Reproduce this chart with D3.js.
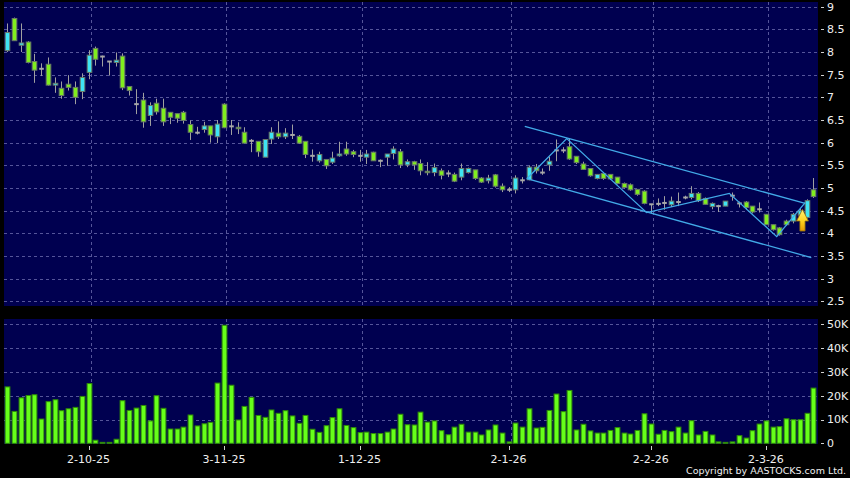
<!DOCTYPE html>
<html><head><meta charset="utf-8">
<script src="https://cdn.jsdelivr.net/npm/d3@7/dist/d3.min.js"></script>
<style>html,body{margin:0;padding:0;background:#000;}svg{display:block;}</style>
</head><body>
<svg id="c" width="850" height="478"></svg>
<script>
// ---- data (one entry per trading day) ----
const open = [8.03,8.74,8.15,8.22,7.79,7.63,7.73,7.27,7.20,7.29, 7.22,7.13,7.55,8.08,7.90,7.79,7.77,7.91,7.24,6.85,
 6.94,6.60,6.87,6.76,6.67,6.64,6.67,6.40,6.22,6.29, 6.37,6.13,6.85,6.36,6.34,6.23,6.04,6.03,5.68,6.08,
 6.21,6.13,6.17,6.14,6.03,5.71,5.60,5.63,5.57,5.71, 5.86,5.80,5.71,5.68,5.79,5.60,5.68,5.76,5.80,5.51,
 5.58,5.54,5.37,5.34,5.38,5.32,5.30,5.24,5.34,5.40, 5.22,5.16,5.29,5.04,4.96,4.96,5.17,5.18,5.46,5.34,
 5.51,5.83,5.83,5.91,5.70,5.53,5.43,5.21,5.32,5.30, 5.24,5.10,5.07,4.97,4.93,4.64,4.65,4.67,4.63,4.69,
 4.79,4.79,4.88,4.77,4.59,4.60,4.60,4.83,4.66,4.69, 4.60,4.53,4.42,4.19,4.12,4.27,4.27,4.40,4.35,4.96];
const high = [8.63,8.76,8.63,8.24,7.96,7.75,7.88,7.44,7.35,7.49, 7.35,7.53,8.04,8.12,7.92,7.80,7.99,7.97,7.25,7.18,
 7.10,6.89,6.97,6.97,6.67,6.64,6.70,6.49,6.35,6.46, 6.37,6.50,6.87,6.50,6.45,6.34,6.08,6.03,6.07,6.34,
 6.47,6.32,6.40,6.17,6.03,5.85,5.80,5.63,5.80,6.02, 6.02,5.84,5.84,5.84,5.80,5.63,5.75,5.92,5.86,5.63,
 5.60,5.63,5.57,5.54,5.43,5.39,5.34,5.54,5.45,5.40, 5.24,5.29,5.31,5.10,5.02,5.28,5.24,5.50,5.53,5.43,
 5.69,6.07,5.90,6.09,5.70,5.58,5.43,5.30,5.35,5.30, 5.24,5.12,5.10,4.97,4.95,4.64,4.77,4.82,4.81,4.90,
 4.83,5.04,4.91,4.79,4.68,4.63,4.71,4.90,4.70,4.71, 4.60,4.68,4.42,4.19,4.14,4.30,4.45,4.55,4.75,5.22];
const low = [8.00,8.25,8.00,7.75,7.32,7.47,7.26,7.10,6.97,7.15, 6.85,6.96,7.40,7.70,7.68,7.48,7.68,7.16,7.04,6.63,
 6.33,6.37,6.62,6.37,6.41,6.44,6.42,6.06,6.18,6.22, 6.00,5.99,6.32,6.17,6.19,5.99,5.79,5.69,5.68,5.97,
 6.08,6.08,6.08,5.97,5.66,5.58,5.56,5.42,5.53,5.69, 5.71,5.68,5.58,5.53,5.60,5.46,5.49,5.63,5.44,5.46,
 5.40,5.28,5.28,5.26,5.19,5.24,5.13,5.17,5.32,5.18, 5.11,5.10,5.01,4.91,4.91,4.88,5.10,5.17,5.32,5.29,
 5.38,5.59,5.77,5.62,5.53,5.40,5.25,5.19,5.18,5.18, 5.08,4.99,4.94,4.83,4.64,4.44,4.60,4.52,4.58,4.60,
 4.75,4.75,4.69,4.64,4.53,4.47,4.60,4.72,4.57,4.52, 4.44,4.46,4.19,4.06,3.95,4.17,4.22,4.35,4.33,4.78];
const close = [8.43,8.25,8.20,7.77,7.60,7.63,7.27,7.31,7.04,7.22, 7.00,7.44,7.93,7.84,7.90,7.79,7.82,7.21,7.15,6.85,
 6.46,6.82,6.68,6.46,6.56,6.54,6.49,6.23,6.22,6.37, 6.17,6.41,6.33,6.36,6.31,5.99,6.04,5.80,6.07,6.23,
 6.13,6.21,6.17,5.99,5.74,5.71,5.74,5.49,5.66,5.75, 5.75,5.74,5.71,5.75,5.60,5.60,5.75,5.86,5.51,5.58,
 5.51,5.38,5.36,5.45,5.28,5.32,5.15,5.43,5.43,5.21, 5.13,5.22,5.04,4.96,4.96,5.22,5.17,5.46,5.38,5.34,
 5.59,5.83,5.83,5.64,5.56,5.41,5.27,5.30,5.21,5.20, 5.10,5.01,4.96,4.86,4.66,4.64,4.65,4.67,4.71,4.69,
 4.79,4.88,4.72,4.64,4.66,4.60,4.71,4.83,4.66,4.57, 4.47,4.53,4.19,4.08,3.97,4.19,4.42,4.50,4.72,4.81];
const volume = [23700,13400,19100,20100,20400,10200,17500,18300,13700,14500, 15100,19700,25100,1300,400,400,1700,17900,13800,14800,
 15900,9400,20000,14700,6000,6000,6800,11900,7300,8200, 8800,25300,49600,24400,9800,15500,19300,11700,10900,14000,
 12600,13700,11500,8400,11700,5900,4600,7400,10800,14500, 7500,6600,4500,4700,4100,4100,4700,6000,12200,7800,
 7700,13100,8900,9400,5300,3600,6800,8000,4700,4700, 3500,5600,7700,4300,600,8500,6800,14500,6400,6700,
 13800,20700,13300,22200,5600,8000,5200,4300,4300,5400, 6600,4300,3900,5400,12400,8100,3800,5400,4900,6800,
 4300,9500,3500,5000,3500,600,400,600,3200,2200, 5300,8100,9400,6800,7000,10300,9900,9900,12600,23200];
const days = open.map((_, i) => i);
const tickDays = [12, 32, 52, 74, 95, 112];
const tickLabels = ["2-10-25", "3-11-25", "1-12-25", "2-1-26", "2-2-26", "2-3-26"];
const priceTicks = [2.5, 3, 3.5, 4, 4.5, 5, 5.5, 6, 6.5, 7, 7.5, 8, 8.5, 9];
const volTicks = [0, 10000, 20000, 30000, 40000, 50000];
const volTickLabels = ["0", "10K", "20K", "30K", "40K", "50K"];
// trend-channel annotation, as [day, price]
const channelUpper = [[76.4, 6.36], [117.8, 4.66]];
const channelLower = [[76.7, 5.205], [118.7, 3.465]];
const zigzag = [[76.7, 5.205], [82.6, 6.09], [94.4, 4.456], [106.6, 4.881], [113.6, 3.927], [117.8, 4.676]];
const arrowMark = {day: 117.4, tip: 4.53, neck: 4.27, base: 4.05};
const copyright = "Copyright by AASTOCKS.com Ltd.";

// ---- layout ----
const svg = d3.select("#c");
const P = {left: 4, right: 818, top: 2, bottom: 306};
const V = {top: 319, bottom: 444};
const x = d3.scaleBand().domain(days).range([3.9, 816.7]).padding(0);
const bw = x.bandwidth();
const cx = i => x(i) + bw / 2;
const xl = d3.scaleLinear().domain([0, days.length - 1]).range([cx(0), cx(days.length - 1)]);
const y = d3.scaleLinear().domain([2.5, 9]).range([301.3, 6.7]);
const yv = d3.scaleLinear().domain([0, 50000]).range([443.3, 324.3]);

const FONT = "'DejaVu Sans', sans-serif";
const NAVY = "#000050";
const GRID = "#55559a";

svg.append("rect").attr("width", 850).attr("height", 478).attr("fill", "#000");
svg.append("rect").attr("x", P.left).attr("y", P.top).attr("width", P.right - P.left).attr("height", P.bottom - P.top).attr("fill", NAVY);
svg.append("rect").attr("x", P.left).attr("y", V.top).attr("width", P.right - P.left).attr("height", V.bottom - V.top).attr("fill", NAVY);

// horizontal grid
const gGrid = svg.append("g").attr("stroke", GRID).attr("stroke-width", 1).attr("stroke-dasharray", "3,3");
gGrid.selectAll("line.hp").data(priceTicks).join("line")
  .attr("x1", P.left).attr("x2", P.right)
  .attr("y1", d => Math.round(y(d)) + 0.5).attr("y2", d => Math.round(y(d)) + 0.5);
gGrid.selectAll("line.hv").data(volTicks.filter(d => d > 0)).join("line")
  .attr("x1", P.left).attr("x2", P.right)
  .attr("y1", d => Math.round(yv(d)) + 0.5).attr("y2", d => Math.round(yv(d)) + 0.5);
// vertical grid
tickDays.forEach(d => {
  const xx = Math.round(cx(d) + 2) + 0.5;
  gGrid.append("line").attr("x1", xx).attr("x2", xx).attr("y1", P.top).attr("y2", P.bottom);
  gGrid.append("line").attr("x1", xx).attr("x2", xx).attr("y1", V.top).attr("y2", V.bottom);
});

// ---- candles ----
const UP = "#3ee4f4", DOWN = "#80ee1e", DOJI = "#a8a8a8", WICK = "#a0a0a0";
const gC = svg.append("g");
gC.selectAll("line.wick").data(days).join("line")
  .attr("x1", d => Math.round(cx(d)) + 0.5).attr("x2", d => Math.round(cx(d)) + 0.5)
  .attr("y1", d => y(high[d])).attr("y2", d => y(low[d]))
  .attr("stroke", WICK).attr("stroke-width", 1);
const bodyW = 4.6;
gC.selectAll("rect.body").data(days).join("rect")
  .attr("x", d => Math.round(cx(d)) + 0.5 - bodyW / 2)
  .attr("width", bodyW)
  .attr("y", d => open[d] === close[d] ? y(open[d]) - 1 : y(Math.max(open[d], close[d])))
  .attr("height", d => open[d] === close[d] ? 2 : Math.max(1.5, Math.abs(y(open[d]) - y(close[d]))))
  .attr("fill", d => close[d] > open[d] ? UP : (close[d] < open[d] ? DOWN : DOJI))
  .attr("stroke", d => open[d] === close[d] ? "none" : "#687868")
  .attr("stroke-width", 1);

// ---- channel annotation ----
const line = d3.line().x(d => xl(d[0])).y(d => y(d[1]));
const gA = svg.append("g").attr("fill", "none").attr("stroke", "#42aae8").attr("stroke-width", 1.3);
[channelUpper, channelLower, zigzag].forEach(pts => gA.append("path").attr("d", line(pts)));

// arrow marker
const defs = svg.append("defs");
const grad = defs.append("linearGradient").attr("id", "ag").attr("x1", 0).attr("x2", 0).attr("y1", 0).attr("y2", 1);
grad.append("stop").attr("offset", "0%").attr("stop-color", "#fff27a");
grad.append("stop").attr("offset", "55%").attr("stop-color", "#ffd21e");
grad.append("stop").attr("offset", "100%").attr("stop-color", "#e89a00");
const ax = xl(arrowMark.day), aT = y(arrowMark.tip), aN = y(arrowMark.neck), aB = y(arrowMark.base);
svg.append("path")
  .attr("d", `M${ax},${aT} L${ax + 6},${aN} L${ax + 2.6},${aN} L${ax + 2.6},${aB} L${ax - 2.6},${aB} L${ax - 2.6},${aN} L${ax - 6},${aN} Z`)
  .attr("fill", "url(#ag)").attr("stroke", "#8a6a10").attr("stroke-width", 0.8);

// ---- volume bars ----
const volW = 4.8;
svg.append("g").selectAll("rect").data(days).join("rect")
  .attr("x", d => Math.round(cx(d)) + 0.5 - volW / 2)
  .attr("width", volW)
  .attr("y", d => yv(volume[d]))
  .attr("height", d => Math.max(0.5, yv(0) - yv(volume[d])))
  .attr("fill", "#66ff1a").attr("stroke", "#2f8a08").attr("stroke-width", 1);

// ---- right axes ----
const gT = svg.append("g").attr("font-family", FONT).attr("font-size", 11).attr("fill", "#f0f0f0");
priceTicks.forEach(v => {
  svg.append("line").attr("x1", 821).attr("x2", 824).attr("y1", Math.round(y(v)) + 0.5).attr("y2", Math.round(y(v)) + 0.5).attr("stroke", "#cfcfcf");
  gT.append("text").attr("x", 827).attr("y", y(v)).attr("dy", "0.36em").text(String(v));
});
volTicks.forEach((v, k) => {
  svg.append("line").attr("x1", 821).attr("x2", 824).attr("y1", Math.round(yv(v)) + 0.5).attr("y2", Math.round(yv(v)) + 0.5).attr("stroke", "#cfcfcf");
  gT.append("text").attr("x", 827).attr("y", yv(v)).attr("dy", "0.36em").text(volTickLabels[k]);
});
// bottom date axis
tickDays.forEach((d, k) => {
  const xx = Math.round(cx(d)) + 0.5;
  svg.append("line").attr("x1", xx).attr("x2", xx).attr("y1", 446).attr("y2", 450).attr("stroke", "#cfcfcf");
  gT.append("text").attr("x", cx(d)).attr("y", 463).attr("text-anchor", "middle").text(tickLabels[k]);
});
gT.append("text").attr("x", 846).attr("y", 474).attr("text-anchor", "end").attr("font-size", 9.5).text(copyright);
</script>
</body></html>
